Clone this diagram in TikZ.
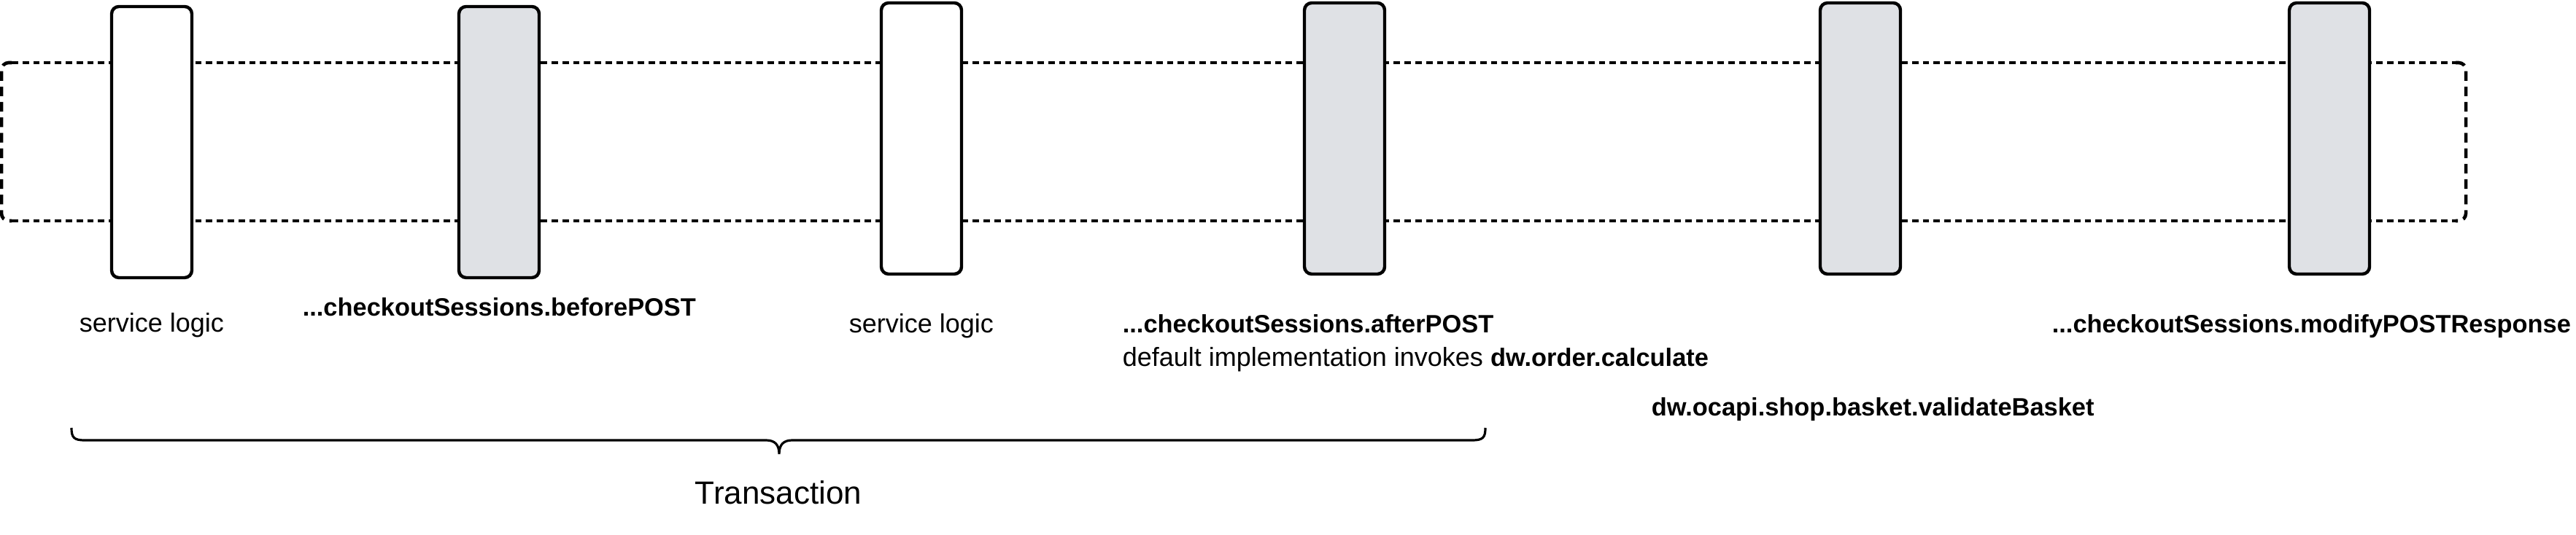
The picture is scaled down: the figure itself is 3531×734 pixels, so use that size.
\documentclass[tikz,border=0pt]{standalone}
\usepackage{fontspec}
\setmainfont{Liberation Sans}
\begin{document}
\begin{tikzpicture}[x=0.25pt,y=-0.25pt,
  hdash/.style={line width=1.15pt, dash pattern=on 2.2pt off 1.5pt},
  vdash/.style={line width=1.15pt, dash pattern=on 3.3pt off 2pt, rounded corners=2.5pt},
  stage/.style={draw=black, line width=1.1pt, rounded corners=2.5pt, fill=white,
    minimum width=27.5pt, minimum height=93pt, inner sep=0pt},
  hook/.style={stage, fill=hookgray},
  lbl/.style={inner sep=0pt, font=\fontsize{9pt}{11pt}\selectfont},
  blbl/.style={inner sep=0pt, font=\fontsize{8.6pt}{11pt}\selectfont\bfseries},
  bracestyle/.style={line width=0.8pt}
]
\definecolor{hookgray}{HTML}{DFE1E5}
\useasboundingbox (0,0) rectangle (3531,734);
% dashed loop
\coordinate (tl) at (16,86);
\coordinate (tr) at (3366,86);
\coordinate (bl) at (16,303);
\coordinate (br) at (3366,303);
\draw[hdash] (tl) -- (tr);
\draw[hdash] (bl) -- (br);
\draw[vdash] (tl) -- (2,86) -- (2,303) -- (bl);
\draw[vdash] (tr) -- (3380,86) -- (3380,303) -- (br);
% stages
\node[stage] (b1) at (208,195) {};
\node[hook]  (b2) at (684,195) {};
\node[stage] (b3) at (1263,190) {};
\node[hook]  (b4) at (1843,190) {};
\node[hook]  (b5) at (2550,190) {};
\node[hook]  (b6) at (3193,190) {};
% labels
\node[lbl, anchor=base] (l1) at (208,456) {service logic};
\node[blbl, anchor=base west] (l2) at (414,434) {...checkoutSessions.beforePOST};
\node[lbl, anchor=base] (l3) at (1263,457) {service logic};
\node[blbl, anchor=base west] (l4) at (1538,457) {...checkoutSessions.afterPOST};
\node[lbl, anchor=base west] (l4b) at (1538,503) {default implementation invokes {\fontsize{8.6pt}{11pt}\selectfont\bfseries dw.order.calculate}};
\node[blbl, anchor=base west] (l5) at (2263,571) {dw.ocapi.shop.basket.validateBasket};
\node[blbl, anchor=base west] (l6) at (2812,457) {...checkoutSessions.modifyPOSTResponse};
% brace
\draw[bracestyle] (98,587) .. controls (98,600) and (101,604) .. (116,604) -- (1050,604)
  .. controls (1062,604) and (1068,610) .. (1068,623)
  .. controls (1068,610) and (1074,604) .. (1086,604) -- (2018,604)
  .. controls (2033,604) and (2036,600) .. (2036,587);
\node[lbl, font=\fontsize{11pt}{13pt}\selectfont, anchor=base] (tx) at (1067,692) {Transaction};
\end{tikzpicture}
\end{document}
